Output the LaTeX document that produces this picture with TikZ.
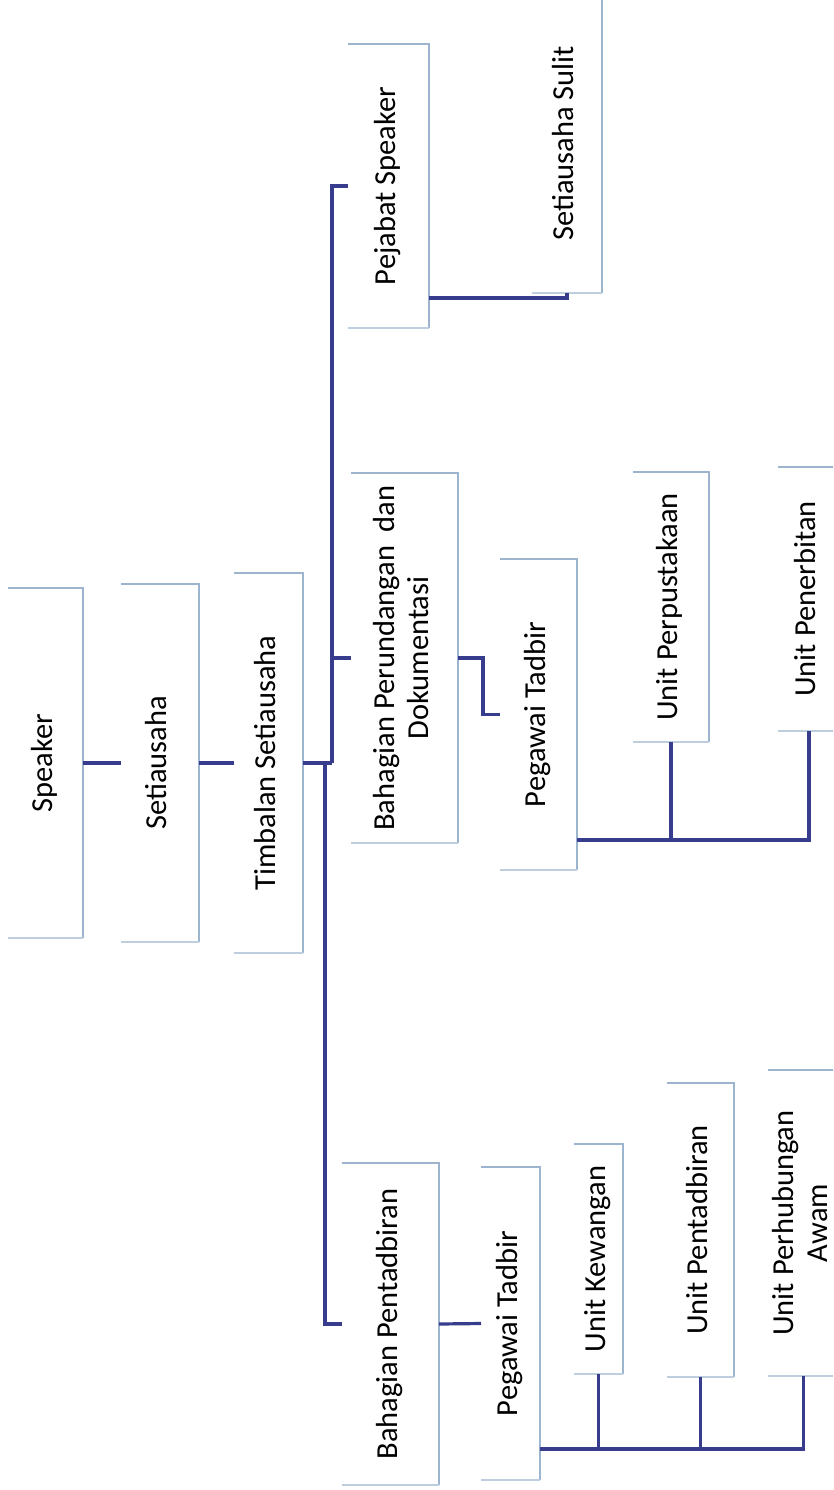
\documentclass[tikz,border=0pt]{standalone}
\usepackage{fontspec}
\setmainfont{Carlito}
\usepackage{graphicx}
\definecolor{boxc}{HTML}{9CB4CE}
\definecolor{connc}{HTML}{373C8C}
\tikzset{
  orgbox/.style={draw=none, inner sep=0pt, outer sep=0pt, font=\fontsize{30.5}{34}\selectfont},
  boxline/.style={draw=boxc, line width=1.6pt},
  boxbottom/.style={draw=boxc!65, line width=1.4pt},
  conn/.style={draw=connc, line width=3.2pt}
}
\newcommand\orgnode[6]{%
  \node[orgbox, minimum width={(#4-#2)*1pt}, minimum height={(#5-#3)*1pt}] (#1) at ({(#2+#4)/2},{(#3+#5)/2})
    {\rotatebox{90}{\begin{tabular}{@{}c@{}}#6\end{tabular}}};
  \draw[boxline] (#1.north west) -- (#1.north east) -- (#1.south east);
  \draw[boxbottom] (#1.south east) -- (#1.south west);
}
\begin{document}
\begin{tikzpicture}[x=1pt,y=-1pt]
\useasboundingbox (0,0) rectangle (833,1490);
\clip (0,0) rectangle (833,1490);
\fill[white] (0,0) rectangle (833,1490);
% boxes: name, left, top, right, bottom, text
\orgnode{speaker}{8}{588}{83}{938}{Speaker}
\orgnode{setia}{121}{584}{199}{942}{Setiausaha}
\orgnode{timb}{234}{573}{303}{953}{Timbalan Setiausaha}
\orgnode{pejabat}{348}{44}{429}{328}{Pejabat Speaker}
\orgnode{sulit}{532}{-6}{602}{293}{Setiausaha Sulit}
\orgnode{perund}{351}{473}{458}{843}{Bahagian Perundangan~ dan\\Dokumentasi}
\orgnode{pegA}{500}{559}{577}{870}{Pegawai Tadbir}
\orgnode{perpus}{633}{472}{709}{742}{Unit Perpustakaan}
\orgnode{penerb}{778}{467}{840}{731}{Unit Penerbitan}
\orgnode{pentad}{342}{1163}{439}{1485}{Bahagian Pentadbiran}
\orgnode{pegB}{481}{1167}{540}{1480}{Pegawai Tadbir}
\orgnode{kew}{574}{1144}{623}{1374}{Unit Kewangan}
\orgnode{upent}{667}{1083}{734}{1377}{Unit Pentadbiran}
\orgnode{awam}{768}{1070}{839}{1376}{Unit Perhubungan\\Awam}
% junctions
\coordinate (j1) at (332,763);
\coordinate (j2) at (325,763);
\coordinate (busS) at ([yshift=30pt]pejabat.south east);
\coordinate (busA) at ([yshift=30pt]pegA.south east);
\coordinate (busB) at ([yshift=31pt]pegB.south east);
% connectors
\draw[conn] (speaker.east) -- (setia.west);
\draw[conn] (setia.east) -- (timb.west);
\draw[conn] (timb.east) -- (j1);
\draw[conn] (pejabat.west) -| (j1);
\draw[conn] (perund.west) -| (j1);
\draw[conn] (pentad.west) -| (j2);
\draw[conn] (busS) -| (sulit.south);
\draw[conn] (perund.east) -- ++(25,0) |- (pegA.west);
\draw[conn] (busA) -| (penerb.south);
\draw[conn] (perpus.south) -- (perpus.south |- busA);
\draw[conn] (pentad.east) -- (pegB.west);
\draw[conn] (busB) -| (awam.south);
\draw[conn] (kew.south) -- (kew.south |- busB);
\draw[conn] (upent.south) -- (upent.south |- busB);
\end{tikzpicture}
\end{document}
